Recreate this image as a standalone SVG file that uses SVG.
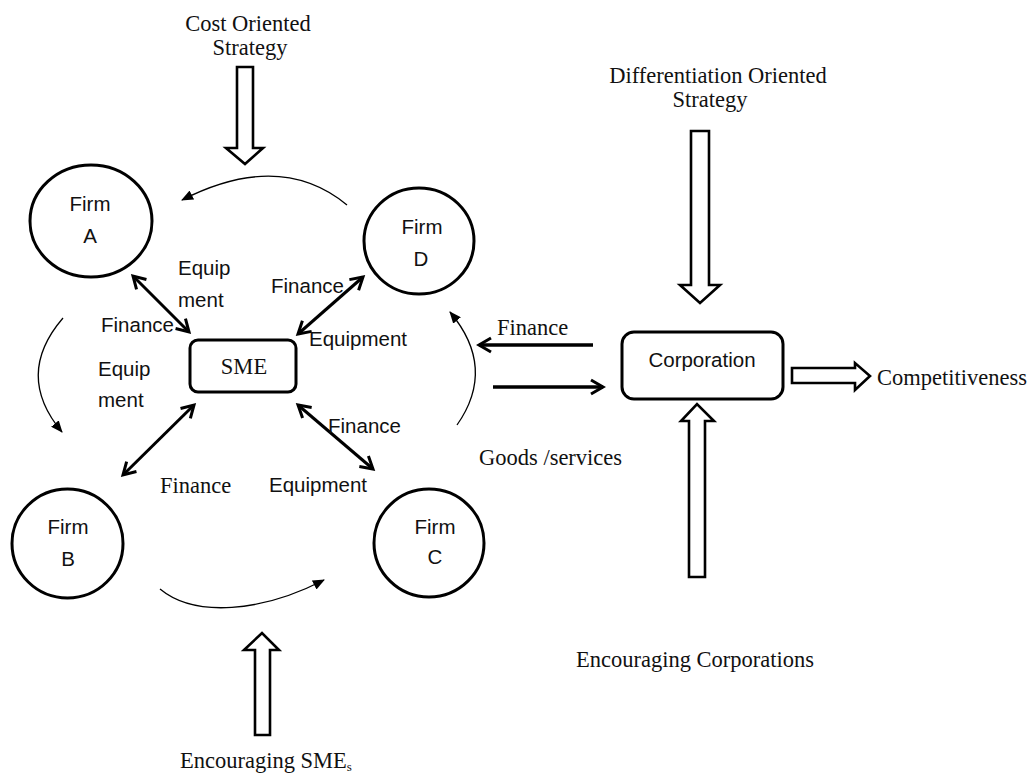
<svg xmlns="http://www.w3.org/2000/svg" width="1027" height="773" viewBox="0 0 1027 773">
<style>
.bg{fill:#fff}
.node{fill:none;stroke:#000;stroke-width:3}
.serif{font-family:"Liberation Serif","Times New Roman",serif;font-size:22.5px;fill:#111}
.sans{font-family:"Liberation Sans",Arial,sans-serif;font-size:20.5px;fill:#111}
.dbl{stroke:#000;stroke-width:3;fill:none;marker-start:url(#open);marker-end:url(#open)}
.one{stroke:#000;stroke-width:3.5;fill:none;marker-end:url(#open)}
.thin{stroke:#000;stroke-width:1.3;fill:none;marker-end:url(#tri)}
.block{fill:#fff;stroke:#000;stroke-width:2.6;stroke-linejoin:miter}
</style>
<defs>
<marker id="open" markerUnits="userSpaceOnUse" viewBox="0 0 18 18" markerWidth="18" markerHeight="18" refX="15" refY="9" orient="auto-start-reverse">
<path d="M3,2 L15,9 L3,16" fill="none" stroke="#000" stroke-width="3"/>
</marker>
<marker id="tri" markerUnits="userSpaceOnUse" viewBox="0 0 12 10" markerWidth="12" markerHeight="10" refX="11" refY="5" orient="auto">
<path d="M0,0 L12,5 L0,10 Z" fill="#000"/>
</marker>
</defs>
<rect class="bg" x="0" y="0" width="1027" height="773"/>

<g id="connectors">
<line class="dbl" x1="133" y1="276" x2="189" y2="332"/>
<line class="dbl" x1="363" y1="277" x2="298" y2="334"/>
<line class="dbl" x1="194" y1="405" x2="123" y2="475"/>
<line class="dbl" x1="298" y1="405" x2="373" y2="469"/>
<line class="one" x1="593" y1="345" x2="479" y2="345"/>
<line class="one" x1="493" y1="387" x2="603" y2="387"/>
<path class="thin" d="M347,205 Q280,150 182,200"/>
<path class="thin" d="M63,318 Q14,375 62,432"/>
<path class="thin" d="M160,589 C195,618 262,612 324,580"/>
<path class="thin" d="M457,425 Q497,368 450,312"/>
<polygon class="block" points="237,67 253,67 253,148 263,148 245,164 226,148 237,148"/>
<polygon class="block" points="691,131 709,131 709,285 720,285 700,303 680,285 691,285"/>
<polygon class="block" points="689,577 689,421 681,421 697,404 714,421 705,421 705,577"/>
<polygon class="block" points="255,735 255,650 244,650 262,633 279,650 270,650 270,735"/>
<polygon class="block" points="792,368 855,368 855,363 870,376 855,390 855,383 792,383"/>
</g>

<g id="firm-a">
<ellipse class="node" cx="91" cy="221" rx="61" ry="56"/>
<text class="sans" x="90" y="211" text-anchor="middle">Firm</text>
<text class="sans" x="90" y="243" text-anchor="middle">A</text>
</g>
<g id="firm-d">
<ellipse class="node" cx="419" cy="241" rx="55" ry="53"/>
<text class="sans" x="422" y="234" text-anchor="middle">Firm</text>
<text class="sans" x="421" y="266" text-anchor="middle">D</text>
</g>
<g id="firm-b">
<ellipse class="node" cx="67.5" cy="543.5" rx="55.5" ry="54.5"/>
<text class="sans" x="68" y="534" text-anchor="middle">Firm</text>
<text class="sans" x="68" y="566" text-anchor="middle">B</text>
</g>
<g id="firm-c">
<ellipse class="node" cx="429" cy="543" rx="55" ry="54"/>
<text class="sans" x="435" y="534" text-anchor="middle">Firm</text>
<text class="sans" x="435" y="564" text-anchor="middle">C</text>
</g>
<g id="sme">
<rect class="node" x="190" y="340" width="106" height="52" rx="8"/>
<text class="serif" x="244" y="374" text-anchor="middle">SME</text>
</g>
<g id="corporation">
<rect class="node" x="622" y="332" width="161" height="67" rx="12"/>
<text class="sans" x="702" y="367" text-anchor="middle">Corporation</text>
</g>

<g id="labels">
<text class="serif" x="248" y="31" text-anchor="middle">Cost Oriented</text>
<text class="serif" x="250" y="55" text-anchor="middle">Strategy</text>
<text class="serif" x="718" y="83" text-anchor="middle">Differentiation Oriented</text>
<text class="serif" x="710" y="107" text-anchor="middle">Strategy</text>
<text class="serif" x="877" y="385">Competitiveness</text>
<text class="serif" x="576" y="667">Encouraging Corporations</text>
<text class="serif" x="180" y="768">Encouraging SME<tspan font-size="13" dy="3">s</tspan></text>
<text class="serif" x="497" y="335">Finance</text>
<text class="serif" x="479" y="465">Goods /services</text>
<text class="serif" x="160" y="493">Finance</text>
<text class="sans" x="178" y="275">Equip</text>
<text class="sans" x="178" y="307">ment</text>
<text class="sans" x="101" y="332">Finance</text>
<text class="sans" x="271" y="293">Finance</text>
<text class="sans" x="309" y="346">Equipment</text>
<text class="sans" x="98" y="376">Equip</text>
<text class="sans" x="98" y="407">ment</text>
<text class="sans" x="328" y="433">Finance</text>
<text class="sans" x="269" y="492">Equipment</text>
</g>
</svg>
